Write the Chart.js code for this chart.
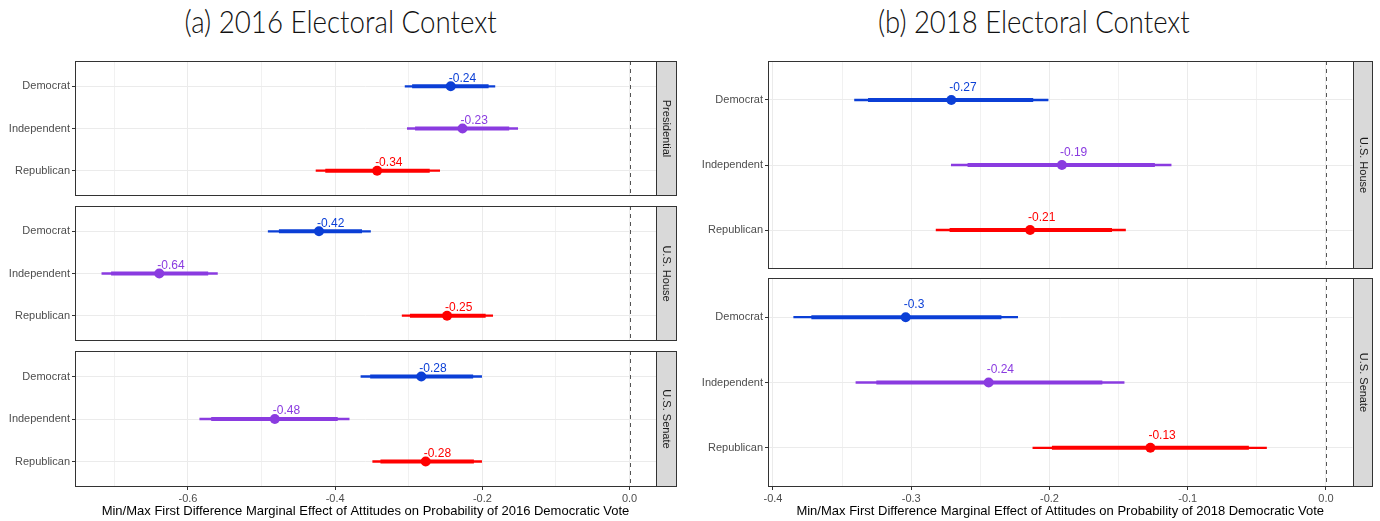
<!DOCTYPE html>
<html><head><meta charset="utf-8">
<script src="https://cdn.jsdelivr.net/npm/chart.js@4.4.1/dist/chart.umd.min.js"></script>
<style>
html,body{margin:0;padding:0;background:#fff;width:1380px;height:521px;overflow:hidden;position:relative;}
canvas{position:absolute;}
.ttl{position:absolute;top:6px;font-family:Lato,'Open Sans',sans-serif;font-weight:300;font-size:31px;line-height:31px;color:#111;white-space:nowrap;transform-origin:center top;}
</style></head><body>
<div id="ta" class="ttl">(a) 2016 Electoral Context</div>
<div id="tb" class="ttl">(b) 2018 Electoral Context</div>
<script>
// ---------- data ----------
const parties = ['Democrat', 'Independent', 'Republican'];
const partyColors = ['#0B3FD6', '#8A3BE0', '#FF0000'];

const pres2016Est  = [-0.243, -0.227, -0.343];
const pres2016Ci90 = [[-0.295, -0.192], [-0.291, -0.164], [-0.413, -0.272]];
const pres2016Ci95 = [[-0.305, -0.183], [-0.302, -0.152], [-0.426, -0.258]];

const house2016Est  = [-0.422, -0.639, -0.248];
const house2016Ci90 = [[-0.476, -0.364], [-0.704, -0.573], [-0.298, -0.196]];
const house2016Ci95 = [[-0.491, -0.352], [-0.717, -0.560], [-0.309, -0.186]];

const senate2016Est  = [-0.283, -0.482, -0.277];
const senate2016Ci90 = [[-0.352, -0.213], [-0.568, -0.397], [-0.338, -0.212]];
const senate2016Ci95 = [[-0.365, -0.201], [-0.584, -0.381], [-0.349, -0.201]];

const house2018Est  = [-0.271, -0.191, -0.214];
const house2018Ci90 = [[-0.331, -0.212], [-0.259, -0.124], [-0.272, -0.155]];
const house2018Ci95 = [[-0.341, -0.201], [-0.271, -0.112], [-0.282, -0.145]];

const senate2018Est  = [-0.304, -0.244, -0.127];
const senate2018Ci90 = [[-0.372, -0.235], [-0.325, -0.162], [-0.198, -0.056]];
const senate2018Ci95 = [[-0.385, -0.223], [-0.340, -0.146], [-0.212, -0.043]];

const gridTicks2016 = [-0.7, -0.6, -0.5, -0.4, -0.3, -0.2, -0.1, 0];
const labelTicks2016 = [-0.6, -0.4, -0.2, 0];
const gridTicks2018 = [-0.4, -0.35, -0.3, -0.25, -0.2, -0.15, -0.1, -0.05, 0];
const labelTicks2018 = [-0.4, -0.3, -0.2, -0.1, 0];
const xRange2016 = [-0.7535, 0.0359];
const xRange2018 = [-0.4036, 0.0192];

const xTitle2016 = 'Min/Max First Difference Marginal Effect of Attitudes on Probability of 2016 Democratic Vote';
const xTitle2018 = 'Min/Max First Difference Marginal Effect of Attitudes on Probability of 2018 Democratic Vote';

// ---------- drawing ----------
const FONT = "'Liberation Sans', Arial, sans-serif";
const H = 521;

function roundLabel(v) { return String(Math.round(v * 100) / 100); }
function near(a, b) { return Math.abs(a - b) < 1e-9; }

function facet(cfg) {
  const padT = 4;
  const extra = cfg.isBottom ? H - cfg.bottom : 4;
  const W = Math.ceil(cfg.stripR + 3 - cfg.canvasLeft);
  const CH = (cfg.bottom - cfg.top) + padT + extra;
  const cv = document.createElement('canvas');
  cv.width = W; cv.height = CH;
  cv.style.left = cfg.canvasLeft + 'px';
  cv.style.top = (cfg.top - padT) + 'px';
  cv.style.width = W + 'px'; cv.style.height = CH + 'px';
  document.body.appendChild(cv);

  const rows = parties.map((p, i) => i + 1);
  const deco = {
    id: 'deco' + Math.floor(Math.random() * 1e9),
    beforeDatasetsDraw(chart) {
      const {ctx, chartArea: a, scales: {x}} = chart;
      const zx = Math.round(x.getPixelForValue(0)) + 0.5;
      ctx.save();
      ctx.strokeStyle = '#555'; ctx.lineWidth = 1; ctx.setLineDash([4, 4]);
      ctx.beginPath(); ctx.moveTo(zx, a.top); ctx.lineTo(zx, a.bottom); ctx.stroke();
      ctx.restore();
    },
    afterDatasetsDraw(chart) {
      const {ctx, chartArea: a, scales: {x, y}} = chart;
      ctx.save();
      ctx.font = '12px ' + FONT;
      ctx.textAlign = 'left'; ctx.textBaseline = 'middle';
      cfg.est.forEach((v, i) => {
        ctx.fillStyle = partyColors[i];
        ctx.fillText(roundLabel(v), x.getPixelForValue(v) - 2, y.getPixelForValue(rows[i] - 0.19));
      });
      // panel border
      const L = Math.round(a.left) + 0.5, T = Math.round(a.top) + 0.5;
      const R = Math.round(a.right) + 0.5, B = Math.round(a.bottom) - 0.5;
      ctx.strokeStyle = '#333'; ctx.lineWidth = 1;
      ctx.strokeRect(L, T, R - L, B - T);
      // strip
      const sR = Math.round(cfg.stripR - cfg.canvasLeft) + 0.5;
      ctx.fillStyle = '#D9D9D9';
      ctx.fillRect(R, T, sR - R, B - T);
      ctx.strokeRect(R, T, sR - R, B - T);
      ctx.translate((R + sR) / 2, (T + B) / 2);
      ctx.rotate(Math.PI / 2);
      ctx.fillStyle = '#1A1A1A'; ctx.font = '11px ' + FONT;
      ctx.textAlign = 'center'; ctx.textBaseline = 'middle';
      ctx.fillText(cfg.strip, 0, 0);
      ctx.restore();
    }
  };

  new Chart(cv, {
    type: 'scatter',
    data: {
      datasets: [
        {
          type: 'scatter',
          data: cfg.est.map((v, i) => ({x: v, y: rows[i]})),
          pointRadius: 5, pointHoverRadius: 5,
          pointBackgroundColor: partyColors, pointBorderWidth: 0, borderWidth: 0
        },
        {
          type: 'bar', indexAxis: 'y', grouped: false,
          data: cfg.ci90.map((c, i) => ({x: c, y: rows[i]})),
          backgroundColor: partyColors, borderWidth: 0, barThickness: 3.4
        },
        {
          type: 'bar', indexAxis: 'y', grouped: false,
          data: cfg.ci95.map((c, i) => ({x: c, y: rows[i]})),
          backgroundColor: partyColors, borderWidth: 0, barThickness: 1.6
        }
      ]
    },
    options: {
      responsive: false, animation: false, devicePixelRatio: 1,
      layout: {padding: {left: 0, top: padT, bottom: 0, right: W - (cfg.right - cfg.canvasLeft)}},
      plugins: {legend: {display: false}, tooltip: {enabled: false}},
      scales: {
        x: {
          type: 'linear', min: cfg.xRange[0], max: cfg.xRange[1], offset: false,
          afterBuildTicks: ax => { ax.ticks = cfg.grid.map(v => ({value: v})); },
          afterFit: ax => { ax.height = extra; ax.paddingLeft = 0; ax.paddingRight = 0; },
          border: {display: false},
          grid: {
            offset: false, color: '#EBEBEB',
            lineWidth: c => cfg.labeled.some(l => near(l, c.tick.value)) ? 1 : 0.7,
            drawTicks: cfg.isBottom, tickLength: 3, tickWidth: 1,
            tickColor: c => cfg.labeled.some(l => near(l, c.tick.value)) ? '#333' : 'rgba(0,0,0,0)'
          },
          ticks: {
            display: cfg.isBottom, autoSkip: false, maxRotation: 0, padding: 2,
            color: '#4D4D4D', font: {family: FONT, size: 11},
            callback: v => cfg.labeled.some(l => near(l, v)) ? (Math.abs(v) < 1e-9 ? '0.0' : v.toFixed(1)) : ''
          },
          title: {
            display: cfg.isBottom, text: cfg.xTitle, color: '#000',
            font: {family: FONT, size: 13}, padding: {top: 0, bottom: 2}
          }
        },
        y: {
          type: 'linear', min: 0.4, max: 3.6, reverse: true, offset: false,
          afterBuildTicks: ax => { ax.ticks = rows.map(v => ({value: v})); },
          afterFit: ax => { ax.width = cfg.left - cfg.canvasLeft; ax.paddingTop = 0; ax.paddingBottom = 0; },
          border: {display: false},
          grid: {offset: false, color: '#EBEBEB', lineWidth: 1, tickLength: 3, tickColor: '#333', tickWidth: 1},
          ticks: {
            autoSkip: false, padding: 2, color: '#4D4D4D', font: {family: FONT, size: 11},
            callback: v => parties[v - 1]
          }
        }
      }
    },
    plugins: [deco]
  });
}

// panel (a)
const aTops = [60, 205, 350], aH = 137;
const aFacets = [
  ['Presidential', pres2016Est, pres2016Ci90, pres2016Ci95],
  ['U.S. House', house2016Est, house2016Ci90, house2016Ci95],
  ['U.S. Senate', senate2016Est, senate2016Ci90, senate2016Ci95]
];
aFacets.forEach((f, k) => facet({
  canvasLeft: 0, left: 75, right: 656, stripR: 675.5,
  top: aTops[k], bottom: aTops[k] + aH, isBottom: k === 2,
  strip: f[0], est: f[1], ci90: f[2], ci95: f[3],
  xRange: xRange2016, grid: gridTicks2016, labeled: labelTicks2016, xTitle: xTitle2016
}));

// panel (b)
const bTops = [60, 277], bH = 210;
const bFacets = [
  ['U.S. House', house2018Est, house2018Ci90, house2018Ci95],
  ['U.S. Senate', senate2018Est, senate2018Ci90, senate2018Ci95]
];
bFacets.forEach((f, k) => facet({
  canvasLeft: 690, left: 768, right: 1352.5, stripR: 1372,
  top: bTops[k], bottom: bTops[k] + bH, isBottom: k === 1,
  strip: f[0], est: f[1], ci90: f[2], ci95: f[3],
  xRange: xRange2018, grid: gridTicks2018, labeled: labelTicks2018, xTitle: xTitle2018
}));

// titles
function placeTitle(id, cx, targetW) {
  const el = document.getElementById(id);
  const w = el.offsetWidth;
  el.style.left = (cx - w / 2) + 'px';
  el.style.transform = 'scaleX(' + (targetW / w) + ')';
}
placeTitle('ta', 340, 312);
placeTitle('tb', 1034, 312);
</script>
</body></html>
